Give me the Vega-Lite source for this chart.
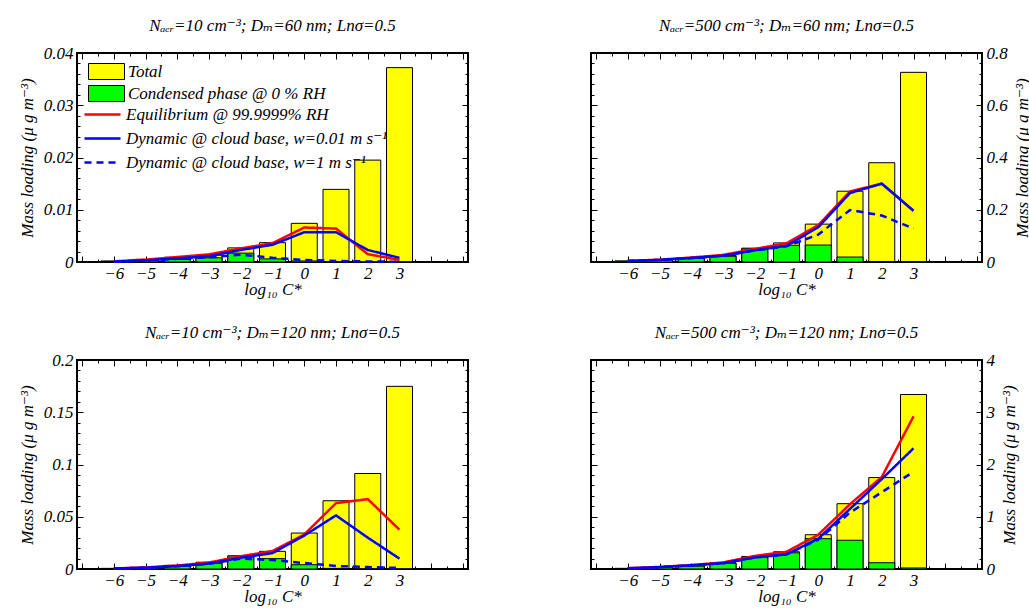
{
  "$schema": "https://vega.github.io/schema/vega-lite/v6.json",
  "background": "white",
  "padding": {"left": 17, "top": 16, "right": 5, "bottom": 5},
  "data": {"values": [
    {"p":1,"c":-6,"s":"T","v":0.0002},{"p":1,"c":-5,"s":"T","v":0.0005},{"p":1,"c":-4,"s":"T","v":0.0009},{"p":1,"c":-3,"s":"T","v":0.0013},{"p":1,"c":-2,"s":"T","v":0.0027},{"p":1,"c":-1,"s":"T","v":0.0037},{"p":1,"c":0,"s":"T","v":0.0074},{"p":1,"c":1,"s":"T","v":0.0139},{"p":1,"c":2,"s":"T","v":0.0195},{"p":1,"c":3,"s":"T","v":0.0372},
    {"p":1,"c":-6,"s":"C","v":0.0001},{"p":1,"c":-5,"s":"C","v":0.00025},{"p":1,"c":-4,"s":"C","v":0.0005},{"p":1,"c":-3,"s":"C","v":0.0008},{"p":1,"c":-2,"s":"C","v":0.0017},{"p":1,"c":-1,"s":"C","v":0.0006},{"p":1,"c":0,"s":"C","v":0.0002},{"p":1,"c":1,"s":"C","v":0.00005},{"p":1,"c":2,"s":"C","v":0.00001},{"p":1,"c":3,"s":"C","v":0},
    {"p":1,"c":-6,"s":"E","v":0.00013},{"p":1,"c":-5,"s":"E","v":0.00045},{"p":1,"c":-4,"s":"E","v":0.00095},{"p":1,"c":-3,"s":"E","v":0.00146},{"p":1,"c":-2,"s":"E","v":0.0026},{"p":1,"c":-1,"s":"E","v":0.0036},{"p":1,"c":0,"s":"E","v":0.0066},{"p":1,"c":1,"s":"E","v":0.0064},{"p":1,"c":2,"s":"E","v":0.0015},{"p":1,"c":3,"s":"E","v":0.0004},
    {"p":1,"c":-6,"s":"D1","v":0.00006},{"p":1,"c":-5,"s":"D1","v":0.0003},{"p":1,"c":-4,"s":"D1","v":0.0007},{"p":1,"c":-3,"s":"D1","v":0.0011},{"p":1,"c":-2,"s":"D1","v":0.0023},{"p":1,"c":-1,"s":"D1","v":0.0033},{"p":1,"c":0,"s":"D1","v":0.0057},{"p":1,"c":1,"s":"D1","v":0.0057},{"p":1,"c":2,"s":"D1","v":0.0023},{"p":1,"c":3,"s":"D1","v":0.0008},
    {"p":1,"c":-6,"s":"D2","v":0.00006},{"p":1,"c":-5,"s":"D2","v":0.0003},{"p":1,"c":-4,"s":"D2","v":0.0006},{"p":1,"c":-3,"s":"D2","v":0.0009},{"p":1,"c":-2,"s":"D2","v":0.0014},{"p":1,"c":-1,"s":"D2","v":0.0008},{"p":1,"c":0,"s":"D2","v":0.0004},{"p":1,"c":1,"s":"D2","v":0.0002},{"p":1,"c":2,"s":"D2","v":0.0001},{"p":1,"c":3,"s":"D2","v":0.00005},

    {"p":2,"c":-6,"s":"T","v":0.004},{"p":2,"c":-5,"s":"T","v":0.009},{"p":2,"c":-4,"s":"T","v":0.016},{"p":2,"c":-3,"s":"T","v":0.025},{"p":2,"c":-2,"s":"T","v":0.053},{"p":2,"c":-1,"s":"T","v":0.073},{"p":2,"c":0,"s":"T","v":0.145},{"p":2,"c":1,"s":"T","v":0.271},{"p":2,"c":2,"s":"T","v":0.38},{"p":2,"c":3,"s":"T","v":0.726},
    {"p":2,"c":-6,"s":"C","v":0.003},{"p":2,"c":-5,"s":"C","v":0.008},{"p":2,"c":-4,"s":"C","v":0.014},{"p":2,"c":-3,"s":"C","v":0.022},{"p":2,"c":-2,"s":"C","v":0.05},{"p":2,"c":-1,"s":"C","v":0.064},{"p":2,"c":0,"s":"C","v":0.065},{"p":2,"c":1,"s":"C","v":0.019},{"p":2,"c":2,"s":"C","v":0.002},{"p":2,"c":3,"s":"C","v":0.001},
    {"p":2,"c":-6,"s":"E","v":0.004},{"p":2,"c":-5,"s":"E","v":0.009},{"p":2,"c":-4,"s":"E","v":0.017},{"p":2,"c":-3,"s":"E","v":0.027},{"p":2,"c":-2,"s":"E","v":0.05},{"p":2,"c":-1,"s":"E","v":0.072},{"p":2,"c":0,"s":"E","v":0.141},{"p":2,"c":1,"s":"E","v":0.27},{"p":2,"c":2,"s":"E","v":0.3},{"p":2,"c":3,"s":"E","v":0.196},
    {"p":2,"c":-6,"s":"D1","v":0.004},{"p":2,"c":-5,"s":"D1","v":0.008},{"p":2,"c":-4,"s":"D1","v":0.015},{"p":2,"c":-3,"s":"D1","v":0.024},{"p":2,"c":-2,"s":"D1","v":0.045},{"p":2,"c":-1,"s":"D1","v":0.062},{"p":2,"c":0,"s":"D1","v":0.133},{"p":2,"c":1,"s":"D1","v":0.264},{"p":2,"c":2,"s":"D1","v":0.3},{"p":2,"c":3,"s":"D1","v":0.196},
    {"p":2,"c":-6,"s":"D2","v":0.004},{"p":2,"c":-5,"s":"D2","v":0.008},{"p":2,"c":-4,"s":"D2","v":0.015},{"p":2,"c":-3,"s":"D2","v":0.024},{"p":2,"c":-2,"s":"D2","v":0.044},{"p":2,"c":-1,"s":"D2","v":0.06},{"p":2,"c":0,"s":"D2","v":0.105},{"p":2,"c":1,"s":"D2","v":0.199},{"p":2,"c":2,"s":"D2","v":0.178},{"p":2,"c":3,"s":"D2","v":0.128},

    {"p":3,"c":-6,"s":"T","v":0.0006},{"p":3,"c":-5,"s":"T","v":0.0015},{"p":3,"c":-4,"s":"T","v":0.0035},{"p":3,"c":-3,"s":"T","v":0.0065},{"p":3,"c":-2,"s":"T","v":0.0127},{"p":3,"c":-1,"s":"T","v":0.0169},{"p":3,"c":0,"s":"T","v":0.0344},{"p":3,"c":1,"s":"T","v":0.0653},{"p":3,"c":2,"s":"T","v":0.0914},{"p":3,"c":3,"s":"T","v":0.1748},
    {"p":3,"c":-6,"s":"C","v":0.0003},{"p":3,"c":-5,"s":"C","v":0.001},{"p":3,"c":-4,"s":"C","v":0.0028},{"p":3,"c":-3,"s":"C","v":0.0055},{"p":3,"c":-2,"s":"C","v":0.0115},{"p":3,"c":-1,"s":"C","v":0.0099},{"p":3,"c":0,"s":"C","v":0.0041},{"p":3,"c":1,"s":"C","v":0.0006},{"p":3,"c":2,"s":"C","v":0.0001},{"p":3,"c":3,"s":"C","v":0},
    {"p":3,"c":-6,"s":"E","v":0.0005},{"p":3,"c":-5,"s":"E","v":0.0015},{"p":3,"c":-4,"s":"E","v":0.0033},{"p":3,"c":-3,"s":"E","v":0.0062},{"p":3,"c":-2,"s":"E","v":0.0122},{"p":3,"c":-1,"s":"E","v":0.0172},{"p":3,"c":0,"s":"E","v":0.033},{"p":3,"c":1,"s":"E","v":0.063},{"p":3,"c":2,"s":"E","v":0.0669},{"p":3,"c":3,"s":"E","v":0.0376},
    {"p":3,"c":-6,"s":"D1","v":0.0004},{"p":3,"c":-5,"s":"D1","v":0.0012},{"p":3,"c":-4,"s":"D1","v":0.0028},{"p":3,"c":-3,"s":"D1","v":0.0052},{"p":3,"c":-2,"s":"D1","v":0.0108},{"p":3,"c":-1,"s":"D1","v":0.0152},{"p":3,"c":0,"s":"D1","v":0.032},{"p":3,"c":1,"s":"D1","v":0.0513},{"p":3,"c":2,"s":"D1","v":0.03},{"p":3,"c":3,"s":"D1","v":0.0099},
    {"p":3,"c":-6,"s":"D2","v":0.0004},{"p":3,"c":-5,"s":"D2","v":0.0012},{"p":3,"c":-4,"s":"D2","v":0.0027},{"p":3,"c":-3,"s":"D2","v":0.005},{"p":3,"c":-2,"s":"D2","v":0.0099},{"p":3,"c":-1,"s":"D2","v":0.0086},{"p":3,"c":0,"s":"D2","v":0.0057},{"p":3,"c":1,"s":"D2","v":0.0029},{"p":3,"c":2,"s":"D2","v":0.0019},{"p":3,"c":3,"s":"D2","v":0.001},

    {"p":4,"c":-6,"s":"T","v":0.012},{"p":4,"c":-5,"s":"T","v":0.03},{"p":4,"c":-4,"s":"T","v":0.06},{"p":4,"c":-3,"s":"T","v":0.12},{"p":4,"c":-2,"s":"T","v":0.24},{"p":4,"c":-1,"s":"T","v":0.33},{"p":4,"c":0,"s":"T","v":0.656},{"p":4,"c":1,"s":"T","v":1.25},{"p":4,"c":2,"s":"T","v":1.75},{"p":4,"c":3,"s":"T","v":3.34},
    {"p":4,"c":-6,"s":"C","v":0.01},{"p":4,"c":-5,"s":"C","v":0.028},{"p":4,"c":-4,"s":"C","v":0.055},{"p":4,"c":-3,"s":"C","v":0.11},{"p":4,"c":-2,"s":"C","v":0.23},{"p":4,"c":-1,"s":"C","v":0.31},{"p":4,"c":0,"s":"C","v":0.58},{"p":4,"c":1,"s":"C","v":0.55},{"p":4,"c":2,"s":"C","v":0.12},{"p":4,"c":3,"s":"C","v":0.02},
    {"p":4,"c":-6,"s":"E","v":0.015},{"p":4,"c":-5,"s":"E","v":0.04},{"p":4,"c":-4,"s":"E","v":0.075},{"p":4,"c":-3,"s":"E","v":0.125},{"p":4,"c":-2,"s":"E","v":0.25},{"p":4,"c":-1,"s":"E","v":0.33},{"p":4,"c":0,"s":"E","v":0.656},{"p":4,"c":1,"s":"E","v":1.24},{"p":4,"c":2,"s":"E","v":1.76},{"p":4,"c":3,"s":"E","v":2.92},
    {"p":4,"c":-6,"s":"D1","v":0.012},{"p":4,"c":-5,"s":"D1","v":0.035},{"p":4,"c":-4,"s":"D1","v":0.07},{"p":4,"c":-3,"s":"D1","v":0.11},{"p":4,"c":-2,"s":"D1","v":0.22},{"p":4,"c":-1,"s":"D1","v":0.28},{"p":4,"c":0,"s":"D1","v":0.58},{"p":4,"c":1,"s":"D1","v":1.15},{"p":4,"c":2,"s":"D1","v":1.72},{"p":4,"c":3,"s":"D1","v":2.31},
    {"p":4,"c":-6,"s":"D2","v":0.012},{"p":4,"c":-5,"s":"D2","v":0.035},{"p":4,"c":-4,"s":"D2","v":0.07},{"p":4,"c":-3,"s":"D2","v":0.11},{"p":4,"c":-2,"s":"D2","v":0.22},{"p":4,"c":-1,"s":"D2","v":0.28},{"p":4,"c":0,"s":"D2","v":0.56},{"p":4,"c":1,"s":"D2","v":1.08},{"p":4,"c":2,"s":"D2","v":1.47},{"p":4,"c":3,"s":"D2","v":1.86}
  ]},
  "columns": 2,
  "spacing": {"row": 98, "column": 123},
  "bounds": "flush",
  "resolve": {
    "scale": {"fill": "independent", "stroke": "independent", "strokeDash": "independent"},
    "legend": {"fill": "independent", "stroke": "independent", "strokeDash": "independent"}
  },
  "concat": [
    {
      "width": 391, "height": 209,
      "title": {"text": "Nₐₑᵣ=10 cm⁻³; Dₘ=60 nm; Lnσ=0.5"},
      "transform": [{"filter": "datum.p==1"}],
      "resolve": {"axis": {"x": "independent", "y": "independent"}},
      "layer": [
        {"transform": [{"filter": "datum.s=='T'"}],
         "mark": {"type": "bar", "width": 26, "stroke": "black", "strokeWidth": 1},
         "encoding": {
           "x": {"field": "c", "type": "quantitative", "scale": {"domain": [-7, 5], "nice": false, "zero": false}, "axis": {"orient": "bottom", "values": [-7,-6,-5,-4,-3,-2,-1,0,1,2,3,4,5], "tickSize": -6, "labelPadding": 9, "format": "d", "labelExpr": "datum.value>=-6 && datum.value<=3 ? datum.label : ''", "title": "log₁₀ C*", "titlePadding": 0}},
           "y": {"field": "v", "type": "quantitative", "stack": null, "scale": {"domain": [0, 0.04], "nice": false}, "axis": {"orient": "left", "values": [0,0.01,0.02,0.03,0.04], "tickSize": -6, "labelPadding": 10, "format": "~g", "title": "Mass loading (μ g m⁻³)", "titlePadding": 7}},
           "fill": {"field": "s", "type": "nominal", "scale": {"domain": ["T","C"], "range": ["#ffff00","#00ff00"]},
             "legend": {"orient": "none", "legendX": 21, "legendY": 10, "title": null, "symbolType": "M-2.25,-1H2.25V1H-2.25Z", "symbolSize": 256, "symbolStrokeColor": "black", "symbolStrokeWidth": 1, "symbolOpacity": 1, "labelOffset": 13, "rowPadding": 1, "labelFont": "Liberation Serif, DejaVu Serif", "labelFontStyle": "italic", "labelFontSize": 17, "labelColor": "black", "labelLimit": 0,
               "labelExpr": "datum.label=='T' ? 'Total' : 'Condensed phase @ 0 % RH'"}}
         }},
        {"transform": [{"filter": "datum.s=='C'"}],
         "mark": {"type": "bar", "width": 26, "stroke": "black", "strokeWidth": 1},
         "encoding": {
           "x": {"field": "c", "type": "quantitative", "axis": {"orient": "bottom", "values": [-6.5,-5.5,-4.5,-3.5,-2.5,-1.5,-0.5,0.5,1.5,2.5,3.5,4.5], "tickSize": -3, "labels": false, "title": null}},
           "y": {"field": "v", "type": "quantitative", "stack": null, "axis": {"orient": "left", "values": [0.002,0.004,0.006,0.008,0.012,0.014,0.016,0.018,0.022,0.024,0.026,0.028,0.032,0.034,0.036,0.038], "tickSize": -3, "labels": false, "title": null}},
           "fill": {"field": "s", "type": "nominal"}
         }},
        {"transform": [{"filter": "datum.s=='E' || datum.s=='D1'"}],
         "mark": {"type": "line", "strokeWidth": 2.5},
         "encoding": {
           "x": {"field": "c", "type": "quantitative", "axis": {"orient": "top", "values": [-7,-6,-5,-4,-3,-2,-1,0,1,2,3,4,5], "tickSize": -6, "labels": false, "title": null}},
           "y": {"field": "v", "type": "quantitative", "axis": {"orient": "right", "values": [0,0.01,0.02,0.03,0.04], "tickSize": -6, "labels": false, "title": null}},
           "stroke": {"field": "s", "type": "nominal", "scale": {"domain": ["E","D1","D2"], "range": ["#ff0000","#0000ff","#0000ff"]},
             "legend": {"orient": "none", "legendX": 16, "legendY": 52, "title": null, "symbolType": "M-2.25,0H2.25", "symbolSize": 256, "symbolStrokeWidth": 2.5, "symbolFillColor": "transparent", "labelOffset": 14, "rowPadding": 6, "labelFont": "Liberation Serif, DejaVu Serif", "labelFontStyle": "italic", "labelFontSize": 17, "labelColor": "black", "labelLimit": 0,
               "labelExpr": "datum.label=='E' ? 'Equilibrium @ 99.9999% RH' : datum.label=='D1' ? 'Dynamic @ cloud base, w=0.01 m s⁻¹' : 'Dynamic @ cloud base, w=1 m s⁻¹'"}},
           "strokeDash": {"field": "s", "type": "nominal", "scale": {"domain": ["E","D1","D2"], "range": [[1,0],[1,0],[7,5]]},
             "legend": {"orient": "none", "legendX": 16, "legendY": 52, "title": null, "symbolType": "M-2.25,0H2.25", "symbolSize": 256, "symbolStrokeWidth": 2.5, "symbolFillColor": "transparent", "labelOffset": 14, "rowPadding": 6, "labelFont": "Liberation Serif, DejaVu Serif", "labelFontStyle": "italic", "labelFontSize": 17, "labelColor": "black", "labelLimit": 0,
               "labelExpr": "datum.label=='E' ? 'Equilibrium @ 99.9999% RH' : datum.label=='D1' ? 'Dynamic @ cloud base, w=0.01 m s⁻¹' : 'Dynamic @ cloud base, w=1 m s⁻¹'"}}
         }},
        {"transform": [{"filter": "datum.s=='D2'"}],
         "mark": {"type": "line", "strokeWidth": 2.5},
         "encoding": {
           "x": {"field": "c", "type": "quantitative", "axis": {"orient": "top", "values": [-6.5,-5.5,-4.5,-3.5,-2.5,-1.5,-0.5,0.5,1.5,2.5,3.5,4.5], "tickSize": -3, "labels": false, "title": null}},
           "y": {"field": "v", "type": "quantitative", "axis": {"orient": "right", "values": [0.002,0.004,0.006,0.008,0.012,0.014,0.016,0.018,0.022,0.024,0.026,0.028,0.032,0.034,0.036,0.038], "tickSize": -3, "labels": false, "title": null}},
           "stroke": {"field": "s", "type": "nominal"},
           "strokeDash": {"field": "s", "type": "nominal"}
         }}
      ]
    },
    {
      "width": 391, "height": 209,
      "title": {"text": "Nₐₑᵣ=500 cm⁻³; Dₘ=60 nm; Lnσ=0.5"},
      "transform": [{"filter": "datum.p==2"}],
      "resolve": {"axis": {"x": "independent", "y": "independent"}},
      "layer": [
        {"transform": [{"filter": "datum.s=='T'"}],
         "mark": {"type": "bar", "width": 26, "stroke": "black", "strokeWidth": 1},
         "encoding": {
           "x": {"field": "c", "type": "quantitative", "scale": {"domain": [-7, 5], "nice": false, "zero": false}, "axis": {"orient": "bottom", "values": [-7,-6,-5,-4,-3,-2,-1,0,1,2,3,4,5], "tickSize": -6, "labelPadding": 9, "format": "d", "labelExpr": "datum.value>=-6 && datum.value<=3 ? datum.label : ''", "title": "log₁₀ C*", "titlePadding": 0}},
           "y": {"field": "v", "type": "quantitative", "stack": null, "scale": {"domain": [0, 0.8], "nice": false}, "axis": {"orient": "left", "values": [0,0.2,0.4,0.6,0.8], "tickSize": -6, "labels": false, "title": null}},
           "fill": {"field": "s", "type": "nominal", "scale": {"domain": ["T","C"], "range": ["#ffff00","#00ff00"]}, "legend": null}
         }},
        {"transform": [{"filter": "datum.s=='C'"}],
         "mark": {"type": "bar", "width": 26, "stroke": "black", "strokeWidth": 1},
         "encoding": {
           "x": {"field": "c", "type": "quantitative", "axis": {"orient": "bottom", "values": [-6.5,-5.5,-4.5,-3.5,-2.5,-1.5,-0.5,0.5,1.5,2.5,3.5,4.5], "tickSize": -3, "labels": false, "title": null}},
           "y": {"field": "v", "type": "quantitative", "stack": null, "axis": {"orient": "left", "values": [0.04,0.08,0.12,0.16,0.24,0.28,0.32,0.36,0.44,0.48,0.52,0.56,0.64,0.68,0.72,0.76], "tickSize": -3, "labels": false, "title": null}},
           "fill": {"field": "s", "type": "nominal", "legend": null}
         }},
        {"transform": [{"filter": "datum.s=='E' || datum.s=='D1'"}],
         "mark": {"type": "line", "strokeWidth": 2.5},
         "encoding": {
           "x": {"field": "c", "type": "quantitative", "axis": {"orient": "top", "values": [-7,-6,-5,-4,-3,-2,-1,0,1,2,3,4,5], "tickSize": -6, "labels": false, "title": null}},
           "y": {"field": "v", "type": "quantitative", "axis": {"orient": "right", "values": [0,0.2,0.4,0.6,0.8], "tickSize": -6, "labelPadding": 10, "format": "~g", "title": "Mass loading (μ g m⁻³)", "titleAngle": 270, "titleBaseline": "top", "titlePadding": 7}},
           "stroke": {"field": "s", "type": "nominal", "scale": {"domain": ["E","D1","D2"], "range": ["#ff0000","#0000ff","#0000ff"]}, "legend": null},
           "strokeDash": {"field": "s", "type": "nominal", "scale": {"domain": ["E","D1","D2"], "range": [[1,0],[1,0],[7,5]]}, "legend": null}
         }},
        {"transform": [{"filter": "datum.s=='D2'"}],
         "mark": {"type": "line", "strokeWidth": 2.5},
         "encoding": {
           "x": {"field": "c", "type": "quantitative", "axis": {"orient": "top", "values": [-6.5,-5.5,-4.5,-3.5,-2.5,-1.5,-0.5,0.5,1.5,2.5,3.5,4.5], "tickSize": -3, "labels": false, "title": null}},
           "y": {"field": "v", "type": "quantitative", "axis": {"orient": "right", "values": [0.04,0.08,0.12,0.16,0.24,0.28,0.32,0.36,0.44,0.48,0.52,0.56,0.64,0.68,0.72,0.76], "tickSize": -3, "labels": false, "title": null}},
           "stroke": {"field": "s", "type": "nominal", "legend": null},
           "strokeDash": {"field": "s", "type": "nominal", "legend": null}
         }}
      ]
    },
    {
      "width": 391, "height": 209,
      "title": {"text": "Nₐₑᵣ=10 cm⁻³; Dₘ=120 nm; Lnσ=0.5"},
      "transform": [{"filter": "datum.p==3"}],
      "resolve": {"axis": {"x": "independent", "y": "independent"}},
      "layer": [
        {"transform": [{"filter": "datum.s=='T'"}],
         "mark": {"type": "bar", "width": 26, "stroke": "black", "strokeWidth": 1},
         "encoding": {
           "x": {"field": "c", "type": "quantitative", "scale": {"domain": [-7, 5], "nice": false, "zero": false}, "axis": {"orient": "bottom", "values": [-7,-6,-5,-4,-3,-2,-1,0,1,2,3,4,5], "tickSize": -6, "labelPadding": 9, "format": "d", "labelExpr": "datum.value>=-6 && datum.value<=3 ? datum.label : ''", "title": "log₁₀ C*", "titlePadding": 0}},
           "y": {"field": "v", "type": "quantitative", "stack": null, "scale": {"domain": [0, 0.2], "nice": false}, "axis": {"orient": "left", "values": [0,0.05,0.1,0.15,0.2], "tickSize": -6, "labelPadding": 10, "format": "~g", "title": "Mass loading (μ g m⁻³)", "titlePadding": 7}},
           "fill": {"field": "s", "type": "nominal", "scale": {"domain": ["T","C"], "range": ["#ffff00","#00ff00"]}, "legend": null}
         }},
        {"transform": [{"filter": "datum.s=='C'"}],
         "mark": {"type": "bar", "width": 26, "stroke": "black", "strokeWidth": 1},
         "encoding": {
           "x": {"field": "c", "type": "quantitative", "axis": {"orient": "bottom", "values": [-6.5,-5.5,-4.5,-3.5,-2.5,-1.5,-0.5,0.5,1.5,2.5,3.5,4.5], "tickSize": -3, "labels": false, "title": null}},
           "y": {"field": "v", "type": "quantitative", "stack": null, "axis": {"orient": "left", "values": [0.01,0.02,0.03,0.04,0.06,0.07,0.08,0.09,0.11,0.12,0.13,0.14,0.16,0.17,0.18,0.19], "tickSize": -3, "labels": false, "title": null}},
           "fill": {"field": "s", "type": "nominal", "legend": null}
         }},
        {"transform": [{"filter": "datum.s=='E' || datum.s=='D1'"}],
         "mark": {"type": "line", "strokeWidth": 2.5},
         "encoding": {
           "x": {"field": "c", "type": "quantitative", "axis": {"orient": "top", "values": [-7,-6,-5,-4,-3,-2,-1,0,1,2,3,4,5], "tickSize": -6, "labels": false, "title": null}},
           "y": {"field": "v", "type": "quantitative", "axis": {"orient": "right", "values": [0,0.05,0.1,0.15,0.2], "tickSize": -6, "labels": false, "title": null}},
           "stroke": {"field": "s", "type": "nominal", "scale": {"domain": ["E","D1","D2"], "range": ["#ff0000","#0000ff","#0000ff"]}, "legend": null},
           "strokeDash": {"field": "s", "type": "nominal", "scale": {"domain": ["E","D1","D2"], "range": [[1,0],[1,0],[7,5]]}, "legend": null}
         }},
        {"transform": [{"filter": "datum.s=='D2'"}],
         "mark": {"type": "line", "strokeWidth": 2.5},
         "encoding": {
           "x": {"field": "c", "type": "quantitative", "axis": {"orient": "top", "values": [-6.5,-5.5,-4.5,-3.5,-2.5,-1.5,-0.5,0.5,1.5,2.5,3.5,4.5], "tickSize": -3, "labels": false, "title": null}},
           "y": {"field": "v", "type": "quantitative", "axis": {"orient": "right", "values": [0.01,0.02,0.03,0.04,0.06,0.07,0.08,0.09,0.11,0.12,0.13,0.14,0.16,0.17,0.18,0.19], "tickSize": -3, "labels": false, "title": null}},
           "stroke": {"field": "s", "type": "nominal", "legend": null},
           "strokeDash": {"field": "s", "type": "nominal", "legend": null}
         }}
      ]
    },
    {
      "width": 391, "height": 209,
      "title": {"text": "Nₐₑᵣ=500 cm⁻³; Dₘ=120 nm; Lnσ=0.5"},
      "transform": [{"filter": "datum.p==4"}],
      "resolve": {"axis": {"x": "independent", "y": "independent"}},
      "layer": [
        {"transform": [{"filter": "datum.s=='T'"}],
         "mark": {"type": "bar", "width": 26, "stroke": "black", "strokeWidth": 1},
         "encoding": {
           "x": {"field": "c", "type": "quantitative", "scale": {"domain": [-7, 5], "nice": false, "zero": false}, "axis": {"orient": "bottom", "values": [-7,-6,-5,-4,-3,-2,-1,0,1,2,3,4,5], "tickSize": -6, "labelPadding": 9, "format": "d", "labelExpr": "datum.value>=-6 && datum.value<=3 ? datum.label : ''", "title": "log₁₀ C*", "titlePadding": 0}},
           "y": {"field": "v", "type": "quantitative", "stack": null, "scale": {"domain": [0, 4], "nice": false}, "axis": {"orient": "left", "values": [0,1,2,3,4], "tickSize": -6, "labels": false, "title": null}},
           "fill": {"field": "s", "type": "nominal", "scale": {"domain": ["T","C"], "range": ["#ffff00","#00ff00"]}, "legend": null}
         }},
        {"transform": [{"filter": "datum.s=='C'"}],
         "mark": {"type": "bar", "width": 26, "stroke": "black", "strokeWidth": 1},
         "encoding": {
           "x": {"field": "c", "type": "quantitative", "axis": {"orient": "bottom", "values": [-6.5,-5.5,-4.5,-3.5,-2.5,-1.5,-0.5,0.5,1.5,2.5,3.5,4.5], "tickSize": -3, "labels": false, "title": null}},
           "y": {"field": "v", "type": "quantitative", "stack": null, "axis": {"orient": "left", "values": [0.2,0.4,0.6,0.8,1.2,1.4,1.6,1.8,2.2,2.4,2.6,2.8,3.2,3.4,3.6,3.8], "tickSize": -3, "labels": false, "title": null}},
           "fill": {"field": "s", "type": "nominal", "legend": null}
         }},
        {"transform": [{"filter": "datum.s=='E' || datum.s=='D1'"}],
         "mark": {"type": "line", "strokeWidth": 2.5},
         "encoding": {
           "x": {"field": "c", "type": "quantitative", "axis": {"orient": "top", "values": [-7,-6,-5,-4,-3,-2,-1,0,1,2,3,4,5], "tickSize": -6, "labels": false, "title": null}},
           "y": {"field": "v", "type": "quantitative", "axis": {"orient": "right", "values": [0,1,2,3,4], "tickSize": -6, "labelPadding": 10, "format": "~g", "title": "Mass loading (μ g m⁻³)", "titleAngle": 270, "titleBaseline": "top", "titlePadding": 7}},
           "stroke": {"field": "s", "type": "nominal", "scale": {"domain": ["E","D1","D2"], "range": ["#ff0000","#0000ff","#0000ff"]}, "legend": null},
           "strokeDash": {"field": "s", "type": "nominal", "scale": {"domain": ["E","D1","D2"], "range": [[1,0],[1,0],[7,5]]}, "legend": null}
         }},
        {"transform": [{"filter": "datum.s=='D2'"}],
         "mark": {"type": "line", "strokeWidth": 2.5},
         "encoding": {
           "x": {"field": "c", "type": "quantitative", "axis": {"orient": "top", "values": [-6.5,-5.5,-4.5,-3.5,-2.5,-1.5,-0.5,0.5,1.5,2.5,3.5,4.5], "tickSize": -3, "labels": false, "title": null}},
           "y": {"field": "v", "type": "quantitative", "axis": {"orient": "right", "values": [0.2,0.4,0.6,0.8,1.2,1.4,1.6,1.8,2.2,2.4,2.6,2.8,3.2,3.4,3.6,3.8], "tickSize": -3, "labels": false, "title": null}},
           "stroke": {"field": "s", "type": "nominal", "legend": null},
           "strokeDash": {"field": "s", "type": "nominal", "legend": null}
         }}
      ]
    }
  ],
  "config": {
    "font": "Liberation Serif, DejaVu Serif",
    "view": {"stroke": "black", "strokeWidth": 2},
    "axis": {"grid": false, "domain": false, "tickColor": "black", "tickWidth": 1, "labelFont": "Liberation Serif, DejaVu Serif", "labelFontStyle": "italic", "labelFontSize": 17, "labelColor": "black", "labelFlush": false, "labelOverlap": false, "titleFont": "Liberation Serif, DejaVu Serif", "titleFontStyle": "italic", "titleFontWeight": "normal", "titleFontSize": 17, "titleColor": "black"},
    "title": {"font": "Liberation Serif, DejaVu Serif", "fontStyle": "italic", "fontWeight": "normal", "fontSize": 17, "color": "black", "baseline": "alphabetic", "offset": 9}
  }
}
